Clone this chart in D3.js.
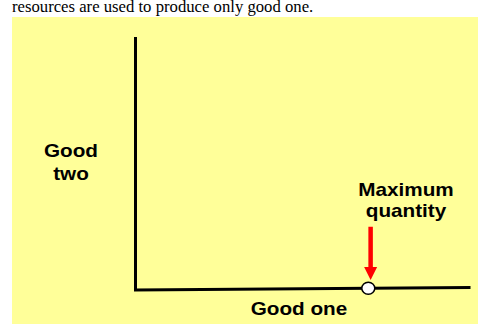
<!DOCTYPE html>
<html>
<head>
<meta charset="utf-8">
<script src="https://cdn.jsdelivr.net/npm/d3@7"></script>
<style>
  html, body { margin: 0; padding: 0; background: #fff; }
  svg { display: block; }
</style>
</head>
<body>
<svg id="chart" width="486" height="326"></svg>
<script>
// ---- data ----
const captionText = "resources are used to produce only good one.";
const yAxisLabel = ["Good", "two"];
const xAxisLabel = ["Good one"];
const pointLabel = ["Maximum", "quantity"];
// axis line end points (good one, good two)
const xAxisLine = [{x: 0, y: 0}, {x: 10, y: 0.1}];
const yAxisLine = [{x: 0, y: 0}, {x: 0, y: 10}];
// maximum quantity of good one when good two = 0
const maxPoint = [{x: 6.98, y: 0.07}];
const arrowFrom = [{x: 7.05, y: 2.5}];
const arrowTo = [{x: 7.05, y: 0.4}];

const svg = d3.select("#chart");

// background panel
svg.append("rect").attr("x", 12).attr("y", 17).attr("width", 466).attr("height", 307)
  .attr("fill", "#FFFF99");

// caption (cut off at top)
svg.append("text").attr("x", 12).attr("y", 12)
  .attr("font-family", "'Liberation Serif', 'Times New Roman', serif")
  .attr("font-size", 16.7).attr("fill", "#000").text(captionText);

const x = d3.scaleLinear().domain([0, 10]).range([135.5, 469]);
const y = d3.scaleLinear().domain([0, 10]).range([290, 37]);

const line = d3.line().x(d => x(d.x)).y(d => y(d.y));

svg.append("path").datum(yAxisLine).attr("d", line)
  .attr("stroke", "#000").attr("stroke-width", 3).attr("fill", "none");
svg.append("path").datum(xAxisLine).attr("d", line)
  .attr("stroke", "#000").attr("stroke-width", 3).attr("fill", "none")
  .attr("stroke-linecap", "square");

// red arrow
const ax = x(arrowFrom[0].x), ay0 = y(arrowFrom[0].y), ay1 = y(arrowTo[0].y);
const headH = 13, headW = 13;
svg.append("line").attr("x1", ax).attr("x2", ax).attr("y1", ay0).attr("y2", ay1 - headH + 1)
  .attr("stroke", "#FF0000").attr("stroke-width", 4.5);
svg.append("path")
  .attr("d", `M${ax - headW / 2},${ay1 - headH} L${ax + headW / 2},${ay1 - headH} L${ax},${ay1} Z`)
  .attr("fill", "#FF0000");

// point
svg.selectAll("ellipse.pt").data(maxPoint).join("ellipse").attr("class", "pt")
  .attr("cx", d => x(d.x)).attr("cy", d => y(d.y))
  .attr("rx", 6.5).attr("ry", 6)
  .attr("fill", "#fff").attr("stroke", "#000").attr("stroke-width", 1.5);

// labels
const font = "'Liberation Sans', Arial, sans-serif";
function label(lines, cx, baseline, gap) {
  lines.forEach((t, i) => {
    svg.append("text")
      .attr("transform", `translate(${cx},${baseline + i * gap}) scale(1.15,1)`)
      .attr("text-anchor", "middle")
      .attr("font-family", font).attr("font-weight", "bold").attr("font-size", 18)
      .attr("fill", "#000").text(t);
  });
}
label(yAxisLabel, 71, 157, 23);
label(xAxisLabel, 299, 315, 0);
label(pointLabel, 406, 196, 21);
</script>
</body>
</html>
